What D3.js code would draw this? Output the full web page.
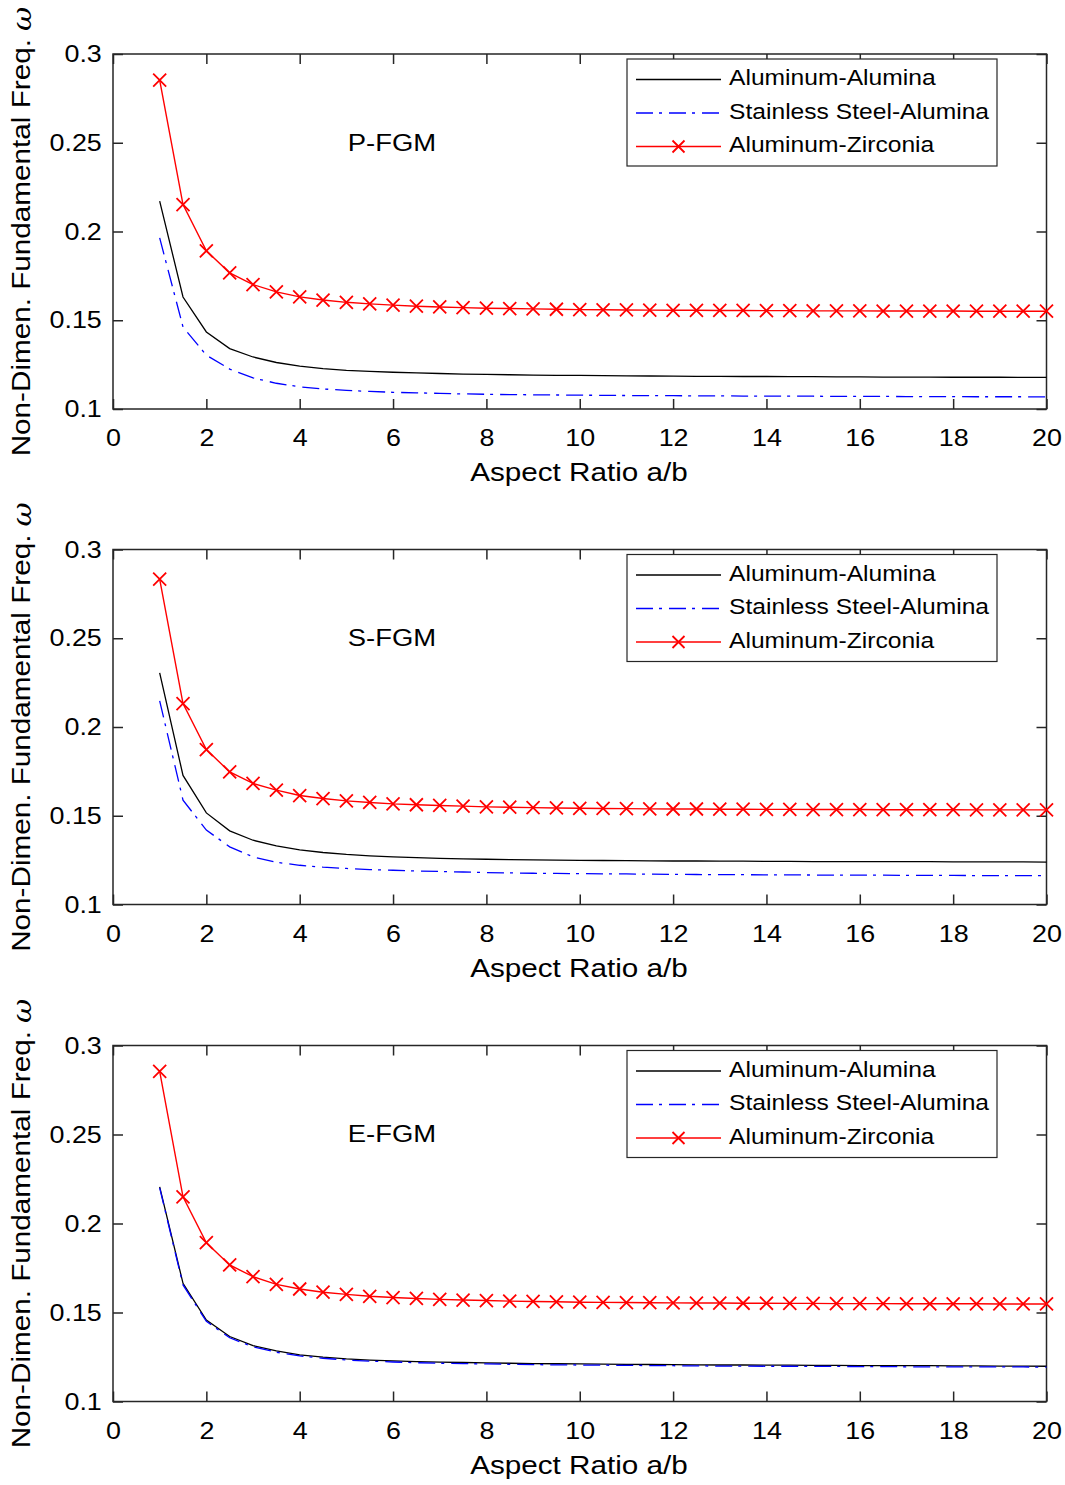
<!DOCTYPE html>
<html><head><meta charset="utf-8">
<script src="https://cdn.jsdelivr.net/npm/d3@7/dist/d3.min.js"></script>
<style>body{margin:0;background:#fff}svg{display:block}text{font-family:"Liberation Sans",Arial,Helvetica,sans-serif;fill:#000}</style>
</head><body>
<script>
const aspectRatio = [1,1.5,2,2.5,3,3.5,4,4.5,5,5.5,6,6.5,7,7.5,8,8.5,9,9.5,10,10.5,11,11.5,12,12.5,13,13.5,14,14.5,15,15.5,16,16.5,17,17.5,18,18.5,19,19.5,20];
const seriesNames = ["Aluminum-Alumina","Stainless Steel-Alumina","Aluminum-Zirconia"];
const panelLabels = ["P-FGM","S-FGM","E-FGM"];
const xTicks = [0,2,4,6,8,10,12,14,16,18,20];
const yTicks = [0.1,0.15,0.2,0.25,0.3];

const pAlAlumina = [0.2171,0.1631,0.1434,0.1340,0.1293,0.1262,0.1241,0.1228,0.1218,0.1212,0.1207,0.1203,0.1200,0.1197,0.1195,0.1193,0.1191,0.1190,0.1189,0.1188,0.1187,0.1186,0.1185,0.1184,0.1184,0.1183,0.1183,0.1182,0.1182,0.1181,0.1181,0.1180,0.1180,0.1180,0.1179,0.1179,0.1179,0.1178,0.1178];
const pSteelAlumina = [0.1964,0.1462,0.1303,0.1225,0.1175,0.1145,0.1125,0.1113,0.1105,0.1099,0.1094,0.1091,0.1088,0.1085,0.1083,0.1081,0.1080,0.1079,0.1078,0.1077,0.1076,0.1075,0.1075,0.1074,0.1074,0.1073,0.1073,0.1072,0.1072,0.1071,0.1071,0.1071,0.1070,0.1070,0.1070,0.1069,0.1069,0.1069,0.1068];
const pAlZirconia = [0.2853,0.2152,0.1891,0.1767,0.1701,0.1660,0.1632,0.1614,0.1601,0.1592,0.1585,0.1579,0.1575,0.1571,0.1568,0.1566,0.1564,0.1562,0.1560,0.1559,0.1558,0.1557,0.1556,0.1556,0.1555,0.1555,0.1554,0.1554,0.1553,0.1553,0.1553,0.1552,0.1552,0.1552,0.1552,0.1551,0.1551,0.1551,0.1551];

const sAlAlumina = [0.2305,0.1727,0.1516,0.1415,0.1362,0.1330,0.1308,0.1293,0.1282,0.1274,0.1268,0.1264,0.1260,0.1257,0.1255,0.1253,0.1251,0.1250,0.1249,0.1248,0.1247,0.1246,0.1245,0.1245,0.1244,0.1244,0.1243,0.1243,0.1242,0.1242,0.1242,0.1241,0.1241,0.1241,0.1240,0.1240,0.1240,0.1240,0.1239];
const sSteelAlumina = [0.2147,0.1588,0.1419,0.1325,0.1268,0.1238,0.1221,0.1210,0.1203,0.1197,0.1193,0.1189,0.1186,0.1183,0.1180,0.1178,0.1176,0.1175,0.1174,0.1173,0.1172,0.1171,0.1170,0.1169,0.1168,0.1168,0.1167,0.1167,0.1166,0.1166,0.1165,0.1165,0.1164,0.1164,0.1164,0.1163,0.1163,0.1163,0.1162];
const sAlZirconia = [0.2833,0.2132,0.1873,0.1747,0.1682,0.1644,0.1614,0.1597,0.1584,0.1575,0.1567,0.1562,0.1558,0.1554,0.1550,0.1548,0.1546,0.1544,0.1542,0.1541,0.1540,0.1539,0.1538,0.1538,0.1537,0.1537,0.1536,0.1536,0.1535,0.1535,0.1535,0.1534,0.1534,0.1534,0.1534,0.1533,0.1533,0.1533,0.1533];

const eAlAlumina = [0.2206,0.1664,0.1458,0.1365,0.1314,0.1284,0.1262,0.1249,0.1239,0.1233,0.1228,0.1224,0.1221,0.1219,0.1217,0.1215,0.1213,0.1212,0.1211,0.1210,0.1209,0.1208,0.1207,0.1206,0.1205,0.1205,0.1204,0.1204,0.1203,0.1203,0.1202,0.1202,0.1201,0.1201,0.1200,0.1200,0.1199,0.1199,0.1198];
const eSteelAlumina = [0.2200,0.1655,0.1450,0.1358,0.1307,0.1277,0.1256,0.1243,0.1233,0.1227,0.1222,0.1218,0.1215,0.1213,0.1211,0.1209,0.1207,0.1206,0.1205,0.1204,0.1203,0.1202,0.1201,0.1200,0.1199,0.1199,0.1198,0.1198,0.1197,0.1197,0.1196,0.1196,0.1195,0.1195,0.1195,0.1194,0.1194,0.1194,0.1193];
const eAlZirconia = [0.2855,0.2150,0.1892,0.1767,0.1701,0.1658,0.1632,0.1614,0.1602,0.1591,0.1584,0.1579,0.1574,0.1570,0.1567,0.1564,0.1562,0.1560,0.1558,0.1557,0.1556,0.1555,0.1554,0.1553,0.1553,0.1552,0.1552,0.1551,0.1551,0.1550,0.1550,0.1550,0.1549,0.1549,0.1549,0.1549,0.1548,0.1548,0.1548];

const panels = [
  {label: panelLabels[0], series: [pAlAlumina, pSteelAlumina, pAlZirconia], top: 54, bottom: 409},
  {label: panelLabels[1], series: [sAlAlumina, sSteelAlumina, sAlZirconia], top: 549.5, bottom: 904.5},
  {label: panelLabels[2], series: [eAlAlumina, eSteelAlumina, eAlZirconia], top: 1045.5, bottom: 1401.5}
];
const styles = [
  {color: "#000000", dash: null, marker: false, width: 1.3},
  {color: "#0000ff", dash: "17,6,3,7", marker: false, width: 1.3},
  {color: "#ff0000", dash: null, marker: true, width: 1.4}
];

const W = 1065, H = 1485;
const SX = 1.12; // horizontal stretch of the original font
const svg = d3.select("body").append("svg").attr("width", W).attr("height", H);
const left = 113, right = 1046.5;
const x = d3.scaleLinear().domain([0, 20]).range([left, right]);
const axisColor = "#262626";

function xMark(g, cx, cy, s, color) {
  g.append("path").attr("d", `M${cx-s},${cy-s}L${cx+s},${cy+s}M${cx-s},${cy+s}L${cx+s},${cy-s}`)
    .attr("stroke", color).attr("stroke-width", 1.8).attr("fill", "none");
}
function stretchedText(g, tx, ty, rot, anchor, size, str) {
  return g.append("text")
    .attr("transform", `translate(${tx},${ty}) rotate(${rot}) scale(${SX},1)`)
    .attr("text-anchor", anchor).attr("dominant-baseline", "middle")
    .style("font-size", size + "px").text(str);
}

panels.forEach(p => {
  const y = d3.scaleLinear().domain([0.1, 0.3]).range([p.bottom, p.top]);
  const g = svg.append("g");
  const tl = 10;
  const bx = g.append("g").attr("transform", `translate(0,${p.bottom})`)
    .call(d3.axisBottom(x).tickValues(xTicks).tickSizeInner(-tl).tickSizeOuter(0).tickPadding(20).tickFormat(d3.format("d")));
  const tx = g.append("g").attr("transform", `translate(0,${p.top})`)
    .call(d3.axisTop(x).tickValues(xTicks).tickSizeInner(-tl).tickSizeOuter(0).tickFormat(""));
  const ly = g.append("g").attr("transform", `translate(${left},0)`)
    .call(d3.axisLeft(y).tickValues(yTicks).tickSizeInner(-tl).tickSizeOuter(0).tickPadding(10).tickFormat(d => String(+d.toFixed(2))));
  const ry = g.append("g").attr("transform", `translate(${right},0)`)
    .call(d3.axisRight(y).tickValues(yTicks).tickSizeInner(-tl).tickSizeOuter(0).tickFormat(""));
  [bx, tx, ly, ry].forEach(a => {
    a.selectAll(".domain").remove();
    a.selectAll("line").attr("stroke", axisColor).attr("stroke-width", 1.5);
    a.selectAll("text").style("font-size", "24px").attr("fill", "#262626")
      .attr("transform", `scale(${SX},1)`);
  });
  g.append("rect").attr("x", left).attr("y", p.top).attr("width", right - left).attr("height", p.bottom - p.top)
    .attr("fill", "none").attr("stroke", axisColor).attr("stroke-width", 1.5);

  const line = d3.line().x((d, i) => x(aspectRatio[i])).y(d => y(d));
  p.series.forEach((s, k) => {
    const st = styles[k];
    const path = g.append("path").datum(s).attr("d", line).attr("fill", "none")
      .attr("stroke", st.color).attr("stroke-width", st.width);
    if (st.dash) path.attr("stroke-dasharray", st.dash);
    if (st.marker) s.forEach((v, i) => xMark(g, x(aspectRatio[i]), y(v), 6.5, st.color));
  });

  stretchedText(g, 392, p.top + 90.5, 0, "middle", 24.5, p.label);

  const lx = 627, lyTop = p.top + 5;
  const lg = g.append("g");
  lg.append("rect").attr("x", lx).attr("y", lyTop).attr("width", 370).attr("height", 107)
    .attr("fill", "#fff").attr("stroke", axisColor).attr("stroke-width", 1.2);
  seriesNames.forEach((name, k) => {
    const st = styles[k];
    const cy = lyTop + 20.5 + k * 33.5;
    const ln = lg.append("line").attr("x1", 636).attr("x2", 721).attr("y1", cy).attr("y2", cy)
      .attr("stroke", st.color).attr("stroke-width", st.width);
    if (st.dash) ln.attr("stroke-dasharray", st.dash);
    if (st.marker) xMark(lg, 678.5, cy, 6, st.color);
    stretchedText(lg, 729, cy, 0, "start", 22, name);
  });

  stretchedText(g, 579, p.bottom + 65, 0, "middle", 26.5, "Aspect Ratio a/b");
  const mid = (p.top + p.bottom) / 2;
  const yt = stretchedText(g, 23, mid, -90, "middle", 26.5, "Non-Dimen. Fundamental Freq. ");
  yt.append("tspan").style("font-family", "'DejaVu Serif',serif").style("font-style", "italic").text("ω");
});
</script>
</body></html>
